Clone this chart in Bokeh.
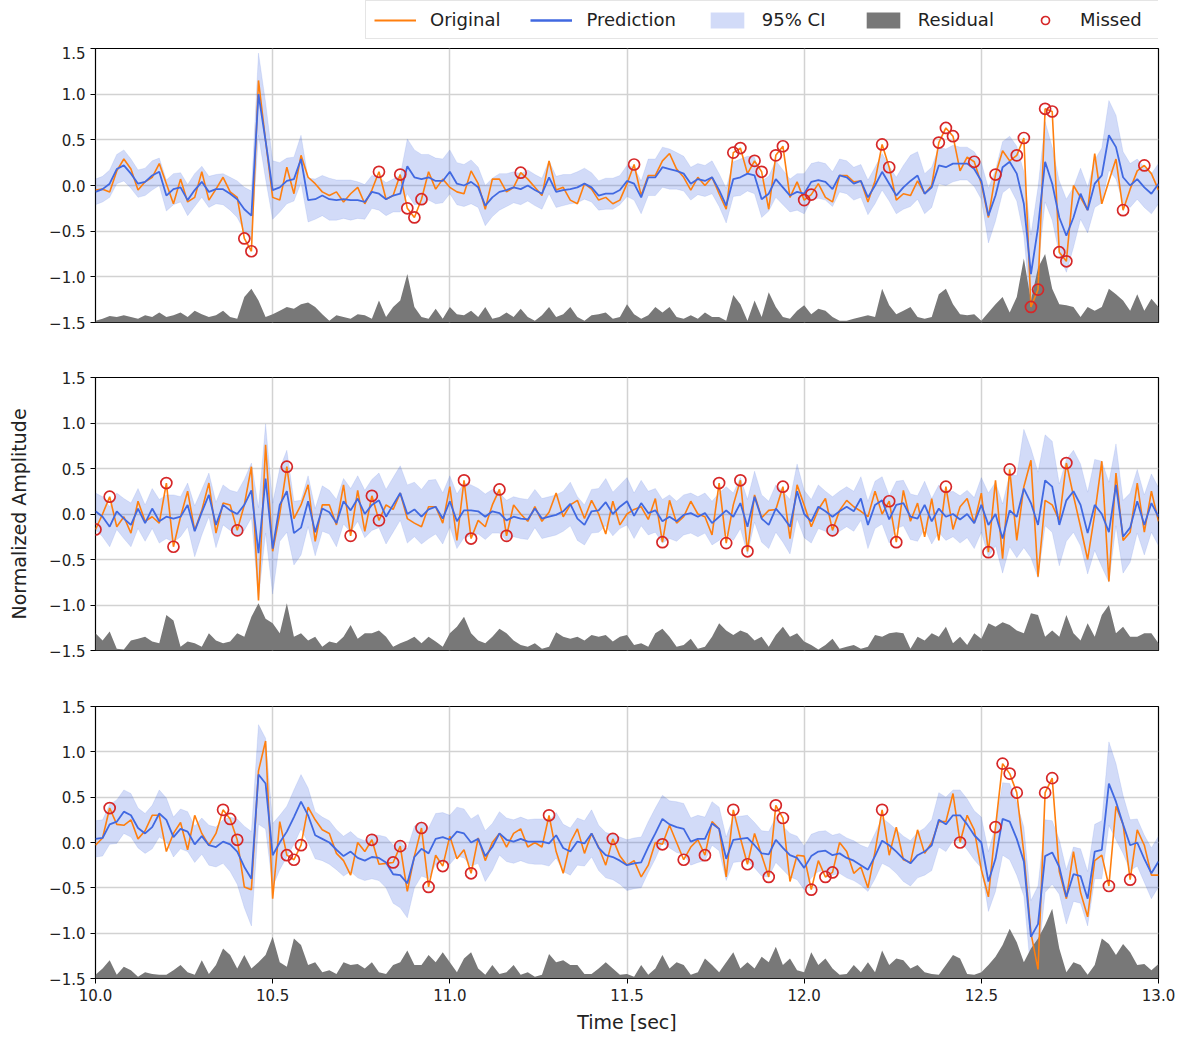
import numpy as np
from bokeh.plotting import figure
from bokeh.layouts import column
from bokeh.models import (ColumnDataSource, FixedTicker, Legend, LegendItem,
                          PrintfTickFormatter, CustomJSTickFormatter)
from bokeh.embed import file_html
from bokeh.resources import INLINE

# ---------------- data (time grid: 10.00 s .. 13.00 s, every 0.02 s) ----------------
t_start = 10.0
t_step = 0.02
x_ticks = [10.0, 10.5, 11.0, 11.5, 12.0, 12.5, 13.0]
y_ticks = [-1.5, -1.0, -0.5, 0.0, 0.5, 1.0, 1.5]

# Panel 1
orig_1 = [-0.05, -0.04, -0.07, 0.16, 0.29, 0.18, -0.05, 0.04, 0.09, 0.24,
          0.02, -0.20, 0.07, -0.18, -0.13, 0.15, -0.16, -0.04, 0.09, -0.07,
          -0.13, -0.58, -0.72, 1.15, 0.49, -0.13, -0.16, 0.20, -0.09, 0.33,
          0.09, 0.02, -0.07, -0.11, -0.07, -0.18, -0.09, -0.02, -0.20, -0.05,
          0.15, -0.15, -0.11, 0.12, -0.25, -0.35, -0.15, 0.15, -0.04, 0.07,
          -0.02, -0.07, -0.09, 0.16, 0.02, -0.26, 0.07, 0.07, -0.07, -0.02,
          0.14, 0.07, -0.02, -0.11, 0.27, -0.05, -0.02, -0.16, -0.20, 0.02,
          -0.04, -0.16, -0.13, -0.20, -0.16, 0.02, 0.23, -0.11, 0.11, 0.11,
          0.27, 0.35, 0.18, 0.09, -0.05, 0.09, 0.00, 0.09, -0.09, -0.26,
          0.36, 0.41, 0.13, 0.27, 0.15, -0.26, 0.33, 0.43, -0.13, 0.04,
          -0.16, -0.10, 0.02, -0.13, -0.18, 0.11, 0.11, 0.04, 0.05, -0.18,
          0.05, 0.45, 0.20, -0.16, -0.09, -0.11, 0.05, -0.09, 0.00, 0.47,
          0.63, 0.54, 0.16, 0.31, 0.26, 0.02, -0.35, 0.12, 0.38, 0.27,
          0.33, 0.52, -1.33, -1.14, 0.84, 0.81, -0.73, -0.83, 0.00, -0.13,
          -0.27, 0.35, -0.20, 0.05, 0.29, -0.27, -0.04, 0.16, 0.22, 0.13,
          -0.05]
pred_1 = [-0.07, -0.04, 0.02, 0.18, 0.22, 0.13, 0.02, 0.04, 0.11, 0.15,
          -0.11, -0.04, -0.02, -0.16, -0.05, 0.04, -0.07, -0.04, -0.04, -0.09,
          -0.15, -0.26, -0.33, 1.00, 0.49, -0.05, -0.02, 0.05, 0.07, 0.29,
          -0.16, -0.15, -0.11, -0.15, -0.16, -0.15, -0.16, -0.16, -0.18, -0.07,
          -0.09, -0.15, -0.11, -0.09, 0.21, 0.09, 0.07, 0.09, 0.05, 0.05,
          0.15, 0.02, 0.00, 0.04, -0.02, -0.22, -0.13, -0.07, -0.05, -0.02,
          -0.04, 0.00, -0.05, -0.09, 0.09, -0.07, -0.05, -0.04, -0.02, 0.02,
          -0.02, -0.11, -0.09, -0.09, -0.05, 0.05, 0.02, -0.13, 0.09, 0.09,
          0.20, 0.18, 0.16, 0.13, 0.02, 0.07, 0.05, 0.09, -0.05, -0.22,
          0.07, 0.09, 0.13, 0.11, -0.15, -0.09, 0.07, -0.02, -0.11, -0.07,
          -0.09, 0.04, 0.06, 0.04, -0.04, 0.11, 0.09, 0.02, 0.05, -0.13,
          0.00, 0.15, 0.02, -0.11, -0.02, 0.05, 0.11, -0.09, -0.02, 0.22,
          0.20, 0.24, 0.24, 0.24, 0.18, 0.05, -0.33, -0.11, 0.20, 0.26,
          0.13, -0.20, -0.97, -0.46, 0.26, 0.02, -0.35, -0.55, -0.35, -0.09,
          -0.27, 0.02, 0.11, 0.55, 0.42, 0.09, 0.00, 0.07, -0.02, -0.09,
          0.02]
ci_1 = [0.14, 0.14, 0.15, 0.16, 0.17, 0.16, 0.15, 0.15, 0.16, 0.15,
        0.17, 0.17, 0.16, 0.17, 0.18, 0.17, 0.17, 0.16, 0.17, 0.18,
        0.20, 0.24, 0.27, 0.45, 0.42, 0.32, 0.27, 0.25, 0.24, 0.26,
        0.24, 0.22, 0.22, 0.23, 0.22, 0.21, 0.22, 0.20, 0.19, 0.18,
        0.18, 0.18, 0.18, 0.20, 0.30, 0.30, 0.27, 0.25, 0.25, 0.24,
        0.24, 0.23, 0.23, 0.24, 0.22, 0.22, 0.21, 0.20, 0.18, 0.17,
        0.17, 0.17, 0.17, 0.17, 0.18, 0.17, 0.17, 0.16, 0.17, 0.17,
        0.16, 0.16, 0.17, 0.17, 0.16, 0.17, 0.18, 0.18, 0.20, 0.20,
        0.22, 0.22, 0.20, 0.19, 0.18, 0.17, 0.17, 0.18, 0.18, 0.19,
        0.19, 0.20, 0.19, 0.20, 0.20, 0.19, 0.20, 0.19, 0.18, 0.20,
        0.22, 0.20, 0.20, 0.20, 0.19, 0.18, 0.18, 0.18, 0.18, 0.19,
        0.20, 0.20, 0.19, 0.20, 0.24, 0.28, 0.26, 0.22, 0.22, 0.20,
        0.20, 0.20, 0.18, 0.18, 0.19, 0.20, 0.30, 0.28, 0.28, 0.28,
        0.30, 0.35, 0.43, 0.44, 0.44, 0.40, 0.40, 0.40, 0.33, 0.28,
        0.25, 0.26, 0.30, 0.38, 0.35, 0.28, 0.24, 0.22, 0.22, 0.22,
        0.22]
resid_1 = [0.02, 0.04, 0.07, 0.06, 0.08, 0.06, 0.04, 0.08, 0.06, 0.11,
           0.06, 0.08, 0.11, 0.06, 0.13, 0.09, 0.06, 0.08, 0.13, 0.06,
           0.04, 0.28, 0.37, 0.24, 0.06, 0.09, 0.13, 0.17, 0.15, 0.20,
           0.22, 0.17, 0.09, 0.02, 0.08, 0.06, 0.04, 0.09, 0.08, 0.04,
           0.24, 0.06, 0.17, 0.24, 0.53, 0.17, 0.06, 0.04, 0.15, 0.04,
           0.17, 0.09, 0.08, 0.13, 0.06, 0.17, 0.04, 0.06, 0.11, 0.06,
           0.15, 0.06, 0.02, 0.08, 0.17, 0.06, 0.09, 0.17, 0.06, 0.02,
           0.08, 0.09, 0.11, 0.04, 0.06, 0.20, 0.09, 0.04, 0.08, 0.17,
           0.11, 0.17, 0.06, 0.04, 0.08, 0.04, 0.11, 0.06, 0.06, 0.02,
           0.30, 0.20, 0.02, 0.24, 0.06, 0.33, 0.17, 0.06, 0.04, 0.13,
           0.19, 0.09, 0.15, 0.13, 0.06, 0.02, 0.02, 0.04, 0.06, 0.08,
           0.06, 0.37, 0.19, 0.09, 0.13, 0.17, 0.06, 0.04, 0.06, 0.31,
           0.37, 0.20, 0.09, 0.08, 0.09, 0.02, 0.11, 0.20, 0.28, 0.11,
           0.28, 0.70, 0.24, 0.60, 0.75, 0.37, 0.20, 0.19, 0.17, 0.06,
           0.17, 0.13, 0.17, 0.37, 0.31, 0.24, 0.13, 0.31, 0.13, 0.26,
           0.17]
missed_t_1 = [10.42, 10.44, 10.80, 10.86, 10.88, 10.90, 10.92, 11.20, 11.52, 11.80,
              11.82, 11.86, 11.88, 11.92, 11.94, 12.00, 12.02, 12.22, 12.24, 12.38,
              12.40, 12.42, 12.48, 12.54, 12.60, 12.62, 12.64, 12.66, 12.68, 12.70,
              12.72, 12.74, 12.90, 12.96]
missed_y_1 = [-0.58, -0.72, 0.15, 0.12, -0.25, -0.35, -0.15, 0.14, 0.23, 0.36,
              0.41, 0.27, 0.15, 0.33, 0.43, -0.16, -0.10, 0.45, 0.20, 0.47,
              0.63, 0.54, 0.26, 0.12, 0.33, 0.52, -1.33, -1.14, 0.84, 0.81,
              -0.73, -0.83, -0.27, 0.22]

# Panel 2
orig_2 = [-0.17, 0.00, 0.19, -0.14, -0.03, -0.21, 0.14, -0.08, -0.03, -0.10,
          0.34, -0.36, -0.03, 0.25, -0.18, 0.04, 0.34, -0.21, 0.12, 0.10,
          -0.18, 0.10, 0.52, -0.95, 0.76, -0.41, 0.00, 0.52, -0.05, 0.10,
          0.32, -0.30, 0.10, 0.10, -0.12, 0.32, -0.24, 0.26, -0.19, 0.20,
          -0.07, 0.10, 0.05, 0.23, -0.05, -0.10, -0.14, 0.08, 0.08, -0.10,
          0.30, -0.29, 0.37, -0.27, -0.07, -0.14, 0.10, 0.27, -0.24, 0.10,
          0.00, -0.08, 0.08, -0.08, 0.02, 0.23, -0.03, 0.10, 0.15, -0.05,
          0.15, 0.00, -0.22, 0.14, -0.12, 0.00, 0.05, 0.08, -0.06, 0.17,
          -0.31, 0.15, -0.10, -0.03, 0.14, 0.00, -0.03, -0.23, 0.34, -0.32,
          0.10, 0.37, -0.41, 0.21, -0.04, 0.04, 0.05, 0.30, -0.27, 0.32,
          0.10, -0.14, 0.05, 0.17, -0.18, 0.04, 0.15, 0.08, 0.03, -0.03,
          0.25, 0.00, 0.14, -0.31, 0.26, -0.08, 0.12, -0.25, 0.17, -0.29,
          0.30, -0.17, 0.08, 0.17, -0.10, 0.23, -0.42, 0.37, -0.49, 0.49,
          -0.29, 0.30, 0.59, -0.69, 0.15, 0.10, -0.07, 0.56, 0.20, -0.14,
          -0.50, 0.00, 0.58, -0.74, 0.45, -0.29, -0.20, 0.34, -0.20, 0.25,
          -0.08]
pred_2 = [0.03, -0.03, -0.14, 0.03, -0.05, -0.12, 0.06, -0.10, 0.06, -0.08,
          -0.03, -0.05, -0.03, 0.10, -0.19, 0.02, 0.21, -0.12, 0.10, 0.04,
          0.00, 0.10, 0.26, -0.43, 0.39, -0.38, 0.10, 0.25, -0.21, -0.15,
          0.14, -0.20, 0.06, 0.02, -0.10, 0.14, 0.04, 0.17, 0.00, 0.10,
          0.15, -0.03, 0.10, 0.23, 0.00, 0.05, -0.03, 0.05, 0.08, -0.05,
          0.14, -0.08, 0.04, 0.04, 0.03, -0.03, 0.03, 0.01, -0.07, -0.03,
          -0.05, -0.06, 0.06, -0.05, -0.03, -0.01, 0.03, 0.11, -0.05, -0.12,
          0.03, 0.04, 0.13, 0.00, 0.08, 0.14, -0.02, 0.12, 0.01, 0.04,
          -0.08, -0.03, -0.08, -0.01, 0.01, -0.03, 0.01, -0.10, -0.03, 0.04,
          -0.03, 0.12, -0.14, 0.19, -0.05, -0.12, 0.06, -0.03, -0.14, 0.25,
          0.00, -0.08, 0.08, 0.03, -0.03, 0.03, 0.08, 0.03, 0.17, -0.12,
          0.10, 0.15, -0.06, 0.10, 0.12, -0.03, -0.05, 0.10, -0.08, 0.06,
          -0.03, 0.00, -0.06, 0.00, -0.10, 0.10, -0.12, 0.00, -0.27, 0.04,
          -0.03, 0.28, 0.12, -0.12, 0.37, 0.30, -0.12, 0.15, 0.25, 0.10,
          -0.21, 0.10, 0.00, -0.20, 0.32, -0.25, -0.15, 0.14, -0.12, 0.12,
          -0.03]
ci_2 = [0.20, 0.22, 0.22, 0.20, 0.22, 0.24, 0.22, 0.20, 0.22, 0.24,
        0.24, 0.26, 0.22, 0.24, 0.28, 0.25, 0.24, 0.25, 0.22, 0.22,
        0.24, 0.28, 0.30, 0.50, 0.60, 0.50, 0.40, 0.45, 0.35, 0.30,
        0.28, 0.26, 0.25, 0.24, 0.26, 0.25, 0.24, 0.25, 0.26, 0.28,
        0.30, 0.30, 0.30, 0.30, 0.32, 0.30, 0.30, 0.32, 0.30, 0.28,
        0.28, 0.30, 0.30, 0.28, 0.25, 0.25, 0.24, 0.22, 0.22, 0.22,
        0.22, 0.22, 0.21, 0.22, 0.22, 0.22, 0.22, 0.24, 0.24, 0.22,
        0.24, 0.24, 0.26, 0.24, 0.24, 0.26, 0.25, 0.25, 0.24, 0.24,
        0.24, 0.24, 0.22, 0.22, 0.22, 0.22, 0.22, 0.24, 0.26, 0.26,
        0.26, 0.28, 0.30, 0.28, 0.26, 0.26, 0.26, 0.28, 0.30, 0.30,
        0.26, 0.24, 0.24, 0.22, 0.22, 0.22, 0.22, 0.22, 0.24, 0.26,
        0.26, 0.26, 0.26, 0.26, 0.25, 0.25, 0.25, 0.26, 0.25, 0.26,
        0.26, 0.25, 0.26, 0.26, 0.28, 0.30, 0.35, 0.35, 0.38, 0.40,
        0.45, 0.65, 0.60, 0.58, 0.50, 0.50, 0.45, 0.45, 0.45, 0.45,
        0.45, 0.50, 0.58, 0.55, 0.45, 0.40, 0.38, 0.35, 0.33, 0.32,
        0.32]
resid_2 = [0.19, 0.11, 0.21, 0.02, 0.01, 0.11, 0.13, 0.15, 0.10, 0.08,
           0.39, 0.33, 0.04, 0.10, 0.08, 0.04, 0.19, 0.11, 0.08, 0.10,
           0.19, 0.15, 0.37, 0.52, 0.35, 0.30, 0.19, 0.52, 0.15, 0.19,
           0.11, 0.15, 0.04, 0.10, 0.08, 0.15, 0.28, 0.13, 0.19, 0.19,
           0.22, 0.15, 0.04, 0.08, 0.11, 0.15, 0.08, 0.15, 0.10, 0.04,
           0.19, 0.26, 0.37, 0.19, 0.11, 0.08, 0.15, 0.24, 0.19, 0.11,
           0.06, 0.04, 0.08, 0.02, 0.04, 0.20, 0.15, 0.13, 0.15, 0.11,
           0.17, 0.15, 0.17, 0.10, 0.15, 0.17, 0.06, 0.08, 0.04, 0.19,
           0.24, 0.15, 0.04, 0.06, 0.13, 0.02, 0.04, 0.15, 0.30, 0.22,
           0.17, 0.22, 0.19, 0.11, 0.15, 0.04, 0.17, 0.26, 0.15, 0.19,
           0.10, 0.06, 0.01, 0.06, 0.13, 0.02, 0.04, 0.06, 0.02, 0.04,
           0.17, 0.15, 0.19, 0.20, 0.19, 0.02, 0.15, 0.11, 0.19, 0.15,
           0.26, 0.08, 0.15, 0.06, 0.19, 0.13, 0.30, 0.26, 0.31, 0.28,
           0.22, 0.19, 0.41, 0.39, 0.15, 0.22, 0.15, 0.39, 0.19, 0.11,
           0.30, 0.15, 0.39, 0.50, 0.19, 0.26, 0.15, 0.15, 0.19, 0.19,
           0.08]
missed_t_2 = [10.00, 10.04, 10.20, 10.22, 10.40, 10.54, 10.72, 10.78, 10.80, 11.04,
              11.06, 11.14, 11.16, 11.60, 11.76, 11.78, 11.82, 11.84, 11.94, 12.08,
              12.24, 12.26, 12.40, 12.52, 12.58, 12.74]
missed_y_2 = [-0.17, 0.19, 0.34, -0.36, -0.18, 0.52, -0.24, 0.20, -0.07, 0.37,
              -0.27, 0.27, -0.24, -0.31, 0.34, -0.32, 0.37, -0.41, 0.30, -0.18,
              0.14, -0.31, 0.30, -0.42, 0.49, 0.56]

# Panel 3
orig_3 = [-0.03, 0.05, 0.38, 0.20, 0.19, 0.25, 0.04, 0.13, 0.30, 0.30,
          -0.10, 0.10, 0.22, -0.08, 0.30, 0.10, -0.03, 0.10, 0.36, 0.26,
          0.03, -0.49, -0.52, 0.79, 1.12, -0.62, 0.23, -0.14, -0.19, -0.03,
          0.39, 0.25, 0.14, 0.10, -0.12, -0.20, -0.36, 0.00, -0.10, 0.03,
          -0.24, -0.23, -0.22, -0.04, -0.54, -0.15, 0.16, -0.49, -0.14, -0.26,
          0.07, -0.18, -0.08, -0.34, 0.05, -0.20, 0.00, 0.10, -0.05, 0.10,
          0.15, -0.05, 0.00, -0.05, 0.30, -0.10, -0.34, 0.00, 0.15, -0.12,
          0.10, -0.05, -0.25, 0.04, -0.15, -0.25, -0.20, -0.38, -0.25, 0.00,
          -0.02, 0.19, 0.00, -0.19, -0.05, 0.03, -0.14, 0.23, 0.15, -0.38,
          0.36, 0.05, -0.24, 0.10, -0.14, -0.38, 0.41, 0.27, -0.43, -0.14,
          -0.15, -0.52, -0.20, -0.38, -0.33, 0.00, -0.10, -0.34, -0.27, -0.50,
          -0.10, 0.36, -0.14, 0.17, -0.19, -0.22, 0.14, -0.12, 0.00, 0.23,
          0.23, 0.54, 0.00, 0.30, 0.14, -0.30, -0.60, 0.17, 0.87, 0.76,
          0.55, -0.12, -1.00, -1.40, 0.55, 0.71, -0.32, -0.62, -0.10, -0.55,
          -0.82, -0.20, -0.14, -0.48, 0.40, 0.20, -0.41, 0.14, -0.03, -0.36,
          -0.36]
pred_3 = [0.04, 0.05, 0.20, 0.23, 0.34, 0.30, 0.16, 0.10, 0.17, 0.32,
          0.25, 0.06, 0.15, 0.12, -0.02, 0.07, -0.03, -0.05, 0.01, -0.02,
          -0.10, -0.27, -0.40, 0.75, 0.65, -0.14, 0.00, 0.12, 0.28, 0.45,
          0.30, 0.08, 0.04, 0.00, -0.08, -0.15, -0.10, -0.17, -0.20, -0.16,
          -0.17, -0.22, -0.35, -0.36, -0.45, -0.16, -0.07, -0.12, 0.04, 0.06,
          0.03, 0.12, 0.10, 0.00, 0.04, -0.15, -0.05, 0.10, 0.03, 0.01,
          0.04, 0.01, 0.01, 0.01, -0.01, 0.08, -0.06, -0.10, 0.01, -0.01,
          0.10, -0.06, -0.14, -0.16, -0.20, -0.25, -0.23, -0.22, -0.05, 0.10,
          0.26, 0.20, 0.17, 0.15, 0.01, 0.04, 0.04, 0.21, 0.15, -0.18,
          0.03, 0.04, 0.05, -0.03, -0.12, -0.13, 0.03, -0.06, -0.14, -0.17,
          -0.28, -0.15, -0.10, -0.09, -0.14, -0.12, -0.17, -0.20, -0.25, -0.30,
          -0.15, 0.02, -0.03, -0.10, -0.18, -0.23, -0.14, -0.10, -0.03, 0.25,
          0.20, 0.30, 0.30, 0.20, 0.08, 0.00, -0.43, -0.18, 0.26, 0.23,
          0.04, -0.21, -1.04, -0.90, -0.15, -0.11, -0.27, -0.60, -0.35, -0.37,
          -0.62, -0.10, -0.08, 0.65, 0.45, 0.20, -0.03, 0.00, -0.18, -0.34,
          -0.21]
ci_3 = [0.20, 0.20, 0.22, 0.24, 0.24, 0.24, 0.22, 0.22, 0.24, 0.26,
        0.24, 0.22, 0.22, 0.22, 0.20, 0.20, 0.22, 0.22, 0.24, 0.30,
        0.36, 0.45, 0.52, 0.55, 0.50, 0.35, 0.30, 0.28, 0.30, 0.30,
        0.30, 0.26, 0.24, 0.24, 0.22, 0.22, 0.22, 0.22, 0.22, 0.24,
        0.25, 0.28, 0.32, 0.36, 0.38, 0.34, 0.30, 0.28, 0.28, 0.27,
        0.27, 0.27, 0.27, 0.26, 0.27, 0.28, 0.26, 0.24, 0.24, 0.24,
        0.24, 0.24, 0.25, 0.25, 0.25, 0.25, 0.26, 0.26, 0.26, 0.25,
        0.26, 0.25, 0.25, 0.25, 0.26, 0.28, 0.28, 0.28, 0.28, 0.28,
        0.26, 0.26, 0.28, 0.28, 0.26, 0.26, 0.24, 0.24, 0.24, 0.24,
        0.25, 0.25, 0.25, 0.25, 0.25, 0.25, 0.25, 0.24, 0.24, 0.24,
        0.24, 0.24, 0.22, 0.22, 0.22, 0.22, 0.22, 0.22, 0.22, 0.24,
        0.25, 0.25, 0.24, 0.24, 0.25, 0.25, 0.25, 0.26, 0.28, 0.30,
        0.30, 0.28, 0.28, 0.28, 0.27, 0.28, 0.33, 0.36, 0.40, 0.42,
        0.40, 0.38, 0.40, 0.42, 0.40, 0.35, 0.30, 0.30, 0.30, 0.30,
        0.30, 0.30, 0.32, 0.46, 0.42, 0.32, 0.28, 0.26, 0.26, 0.28,
        0.28]
resid_3 = [0.04, 0.11, 0.20, 0.04, 0.13, 0.09, 0.02, 0.07, 0.05, 0.04,
           0.04, 0.09, 0.15, 0.07, 0.04, 0.20, 0.05, 0.15, 0.33, 0.26,
           0.11, 0.26, 0.11, 0.18, 0.26, 0.46, 0.18, 0.13, 0.44, 0.37,
           0.15, 0.18, 0.07, 0.09, 0.05, 0.18, 0.15, 0.16, 0.11, 0.18,
           0.07, 0.05, 0.15, 0.18, 0.31, 0.15, 0.15, 0.26, 0.18, 0.29,
           0.18, 0.07, 0.22, 0.29, 0.11, 0.04, 0.15, 0.05, 0.07, 0.15,
           0.04, 0.07, 0.02, 0.04, 0.27, 0.18, 0.20, 0.15, 0.15, 0.05,
           0.05, 0.11, 0.18, 0.11, 0.04, 0.05, 0.02, 0.15, 0.04, 0.11,
           0.26, 0.11, 0.18, 0.15, 0.04, 0.07, 0.22, 0.15, 0.07, 0.18,
           0.29, 0.11, 0.18, 0.11, 0.24, 0.18, 0.35, 0.15, 0.22, 0.09,
           0.07, 0.29, 0.15, 0.22, 0.11, 0.04, 0.05, 0.15, 0.07, 0.18,
           0.07, 0.31, 0.15, 0.22, 0.20, 0.11, 0.15, 0.07, 0.05, 0.04,
           0.15, 0.26, 0.22, 0.05, 0.04, 0.07, 0.15, 0.24, 0.37, 0.55,
           0.40, 0.18, 0.33, 0.44, 0.59, 0.77, 0.33, 0.07, 0.18, 0.15,
           0.04, 0.15, 0.44, 0.38, 0.26, 0.38, 0.29, 0.15, 0.16, 0.09,
           0.16]
missed_t_3 = [10.04, 10.36, 10.38, 10.40, 10.54, 10.56, 10.58, 10.78, 10.84, 10.86,
              10.92, 10.94, 10.98, 11.06, 11.28, 11.46, 11.60, 11.66, 11.72, 11.80,
              11.84, 11.90, 11.92, 11.94, 12.02, 12.06, 12.08, 12.22, 12.44, 12.54,
              12.56, 12.58, 12.60, 12.68, 12.70, 12.86, 12.92]
missed_y_3 = [0.38, 0.36, 0.26, 0.03, -0.14, -0.19, -0.03, 0.03, -0.22, -0.04,
              0.16, -0.49, -0.26, -0.34, 0.30, 0.04, -0.02, -0.19, -0.14, 0.36,
              -0.24, -0.38, 0.41, 0.27, -0.52, -0.38, -0.33, 0.36, 0.00, 0.17,
              0.87, 0.76, 0.55, 0.55, 0.71, -0.48, -0.41]

legend_labels = ["Original", "Prediction", "95% CI", "Residual", "Missed"]

# ---------------- styling ----------------
FONT = "DejaVu Sans"
C_ORIG = "#ff7f0e"
C_PRED = "#4169e1"
C_RES = "#787878"
C_MISS = "#d62728"
GRID = "#d2d2d2"

y_fmt = CustomJSTickFormatter(code="""
    var s = Math.abs(tick).toFixed(1);
    return (tick < -1e-9 ? '\u2212' : '') + s;
""")


def build_sources(orig, pred, ci, resid, mt, my):
    n = len(orig)
    t = t_start + t_step * np.arange(n)
    o = np.array(orig, dtype=float)
    p_ = np.array(pred, dtype=float)
    c = np.array(ci, dtype=float)
    r = np.array(resid, dtype=float)
    src = ColumnDataSource(dict(t=t, o=o, p=p_, lo=p_ - c, hi=p_ + c,
                                rb=np.full(n, -1.5), rt=-1.5 + r))
    msrc = ColumnDataSource(dict(t=mt, y=my))
    return src, msrc


def draw_glyphs(fig, src, msrc, edges=True, lw=1.0):
    band = fig.varea(x="t", y1="lo", y2="hi", source=src,
                     fill_color=C_PRED, fill_alpha=0.24)
    if edges:
        fig.line(x="t", y="hi", source=src, line_color=C_PRED, line_alpha=0.12, line_width=1)
        fig.line(x="t", y="lo", source=src, line_color=C_PRED, line_alpha=0.12, line_width=1)
    res = fig.varea(x="t", y1="rb", y2="rt", source=src, fill_color=C_RES, fill_alpha=1.0)
    lo_ = fig.line(x="t", y="o", source=src, line_color=C_ORIG, line_width=1.6 * lw)
    lp_ = fig.line(x="t", y="p", source=src, line_color=C_PRED, line_width=1.8 * lw)
    ms = fig.scatter(x="t", y="y", source=msrc, marker="circle", size=11,
                     fill_color=None, line_color=C_MISS, line_width=1.7)
    return [lo_, lp_, band, res, ms]


def make_panel(src, msrc, height, top, bottom, show_x, ylabel=None):
    fig = figure(width=1185, height=height, x_range=(10, 13), y_range=(-1.5, 1.5),
                 output_backend="svg", toolbar_location=None,
                 x_axis_location="below" if show_x else None,
                 min_border_left=95, min_border_right=27,
                 min_border_top=top, min_border_bottom=bottom)
    fig.background_fill_color = "white"
    fig.border_fill_color = "white"
    fig.outline_line_color = "black"
    fig.outline_line_width = 1.2

    fig.xgrid.ticker = FixedTicker(ticks=x_ticks)
    fig.ygrid.ticker = FixedTicker(ticks=y_ticks)
    for g in (fig.xgrid, fig.ygrid):
        g.grid_line_color = GRID
        g.grid_line_width = 1.5

    ya = fig.yaxis[0]
    ya.ticker = FixedTicker(ticks=y_ticks)
    ya.formatter = y_fmt
    ya.axis_line_color = None
    ya.major_tick_line_color = "black"
    ya.major_tick_out = 5
    ya.major_tick_in = 0
    ya.minor_tick_line_color = None
    ya.major_label_text_font = FONT
    ya.major_label_text_font_size = "15px"
    ya.major_label_text_color = "#222222"
    ya.major_label_standoff = 5
    if ylabel:
        ya.axis_label = ylabel
        ya.axis_label_text_font = FONT
        ya.axis_label_text_font_size = "19px"
        ya.axis_label_text_font_style = "normal"
        ya.axis_label_text_color = "#222222"
        ya.axis_label_standoff = 16

    if show_x:
        xa = fig.xaxis[0]
        xa.ticker = FixedTicker(ticks=x_ticks)
        xa.formatter = PrintfTickFormatter(format="%.1f")
        xa.axis_line_color = None
        xa.major_tick_line_color = "black"
        xa.major_tick_out = 5
        xa.major_tick_in = 0
        xa.minor_tick_line_color = None
        xa.major_label_text_font = FONT
        xa.major_label_text_font_size = "15px"
        xa.major_label_text_color = "#222222"
        xa.major_label_standoff = 5
        xa.axis_label = "Time [sec]"
        xa.axis_label_text_font = FONT
        xa.axis_label_text_font_size = "19px"
        xa.axis_label_text_font_style = "normal"
        xa.axis_label_text_color = "#222222"
        xa.axis_label_standoff = 7

    draw_glyphs(fig, src, msrc)
    return fig


s1, m1 = build_sources(orig_1, pred_1, ci_1, resid_1, missed_t_1, missed_y_1)
s2, m2 = build_sources(orig_2, pred_2, ci_2, resid_2, missed_t_2, missed_y_2)
s3, m3 = build_sources(orig_3, pred_3, ci_3, resid_3, missed_t_3, missed_y_3)

p1 = make_panel(s1, m1, height=304, top=2, bottom=28, show_x=False)
p2 = make_panel(s2, m2, height=328, top=27, bottom=28, show_x=False,
                ylabel="Normalized Amplitude")
p3 = make_panel(s3, m3, height=364, top=28, bottom=64, show_x=True)

# Legend strip above the panels (its glyphs reuse panel 1's sources, off-range so only the key shows)
pl = figure(width=1185, height=46, x_range=(0, 1), y_range=(0, 1),
            output_backend="svg", toolbar_location=None,
            x_axis_location=None, y_axis_location=None,
            min_border_left=0, min_border_right=0, min_border_top=0, min_border_bottom=0)
pl.outline_line_color = None
pl.xgrid.visible = False
pl.ygrid.visible = False
pl.background_fill_color = "white"
pl.border_fill_color = "white"
leg_r = draw_glyphs(pl, s1, m1, edges=False, lw=1.4)

legend = Legend(items=[LegendItem(label=lab, renderers=[r]) for lab, r in zip(legend_labels, leg_r)],
                orientation="horizontal", location=(270, 7))
legend.label_text_font = FONT
legend.label_text_font_size = "18px"
legend.label_text_color = "#222222"
legend.glyph_width = 42
legend.glyph_height = 20
legend.label_height = 20
legend.label_width = 70
legend.label_standoff = 14
legend.spacing = 30
legend.padding = 8
legend.margin = 0
legend.border_line_color = "#cccccc"
legend.border_line_width = 1
legend.background_fill_color = "white"
legend.background_fill_alpha = 1.0
pl.add_layout(legend, "center")

layout = column(pl, p1, p2, p3, spacing=0)
open("out.html", "w").write(file_html(layout, INLINE))
